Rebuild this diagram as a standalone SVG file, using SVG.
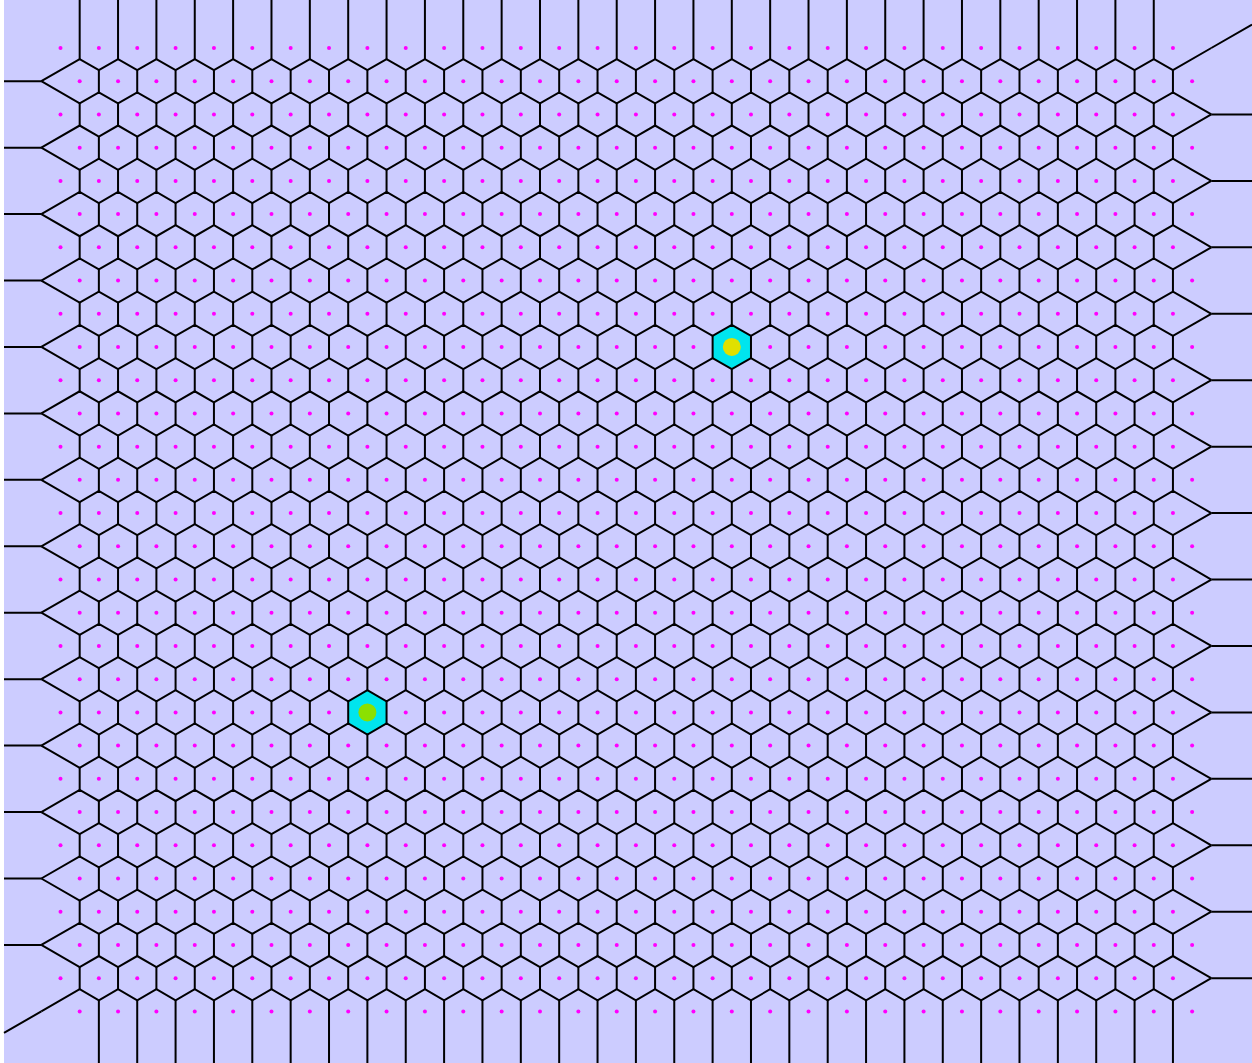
<svg xmlns="http://www.w3.org/2000/svg" xmlns:xlink="http://www.w3.org/1999/xlink" width="1252" height="1063" viewBox="0 0 1252 1063">
<style>
.e{fill:none;stroke:#000;stroke-width:2;stroke-linejoin:miter}
.s{fill:#ff00ff}
.sel{fill:#00e5ee}
</style>
<defs>
<path id="za" d="M41.32 33.22L79.68 11.07l19.18 11.07 19.18-11.07 19.18 11.07 19.18-11.07 19.18 11.07 19.18-11.07 19.18 11.07 19.18-11.07
19.18 11.07 19.18-11.07 19.18 11.07 19.18-11.07 19.18 11.07 19.18-11.07 19.18 11.07 19.18-11.07
19.18 11.07 19.18-11.07 19.18 11.07 19.18-11.07 19.18 11.07 19.18-11.07 19.18 11.07 19.18-11.07
19.18 11.07 19.18-11.07 19.18 11.07 19.18-11.07 19.18 11.07 19.18-11.07 19.18 11.07 19.18-11.07
19.18 11.07 19.18-11.07 19.18 11.07 19.18-11.07 19.18 11.07 19.18-11.07 19.18 11.07 19.18-11.07
19.18 11.07 19.18-11.07 19.18 11.07 19.18-11.07 19.18 11.07 19.18-11.07 19.18 11.07 19.18-11.07
19.18 11.07 19.18-11.07 19.18 11.07 19.18-11.07 19.18 11.07 19.18-11.07 19.18 11.07 19.18-11.07
19.18 11.07L1211.3 0"/>
<path id="zb" d="M41.32 0L79.68 22.14l19.18-11.07 19.18 11.07 19.18-11.07 19.18 11.07 19.18-11.07 19.18 11.07 19.18-11.07 19.18 11.07
19.18-11.07 19.18 11.07 19.18-11.07 19.18 11.07 19.18-11.07 19.18 11.07 19.18-11.07 19.18 11.07
19.18-11.07 19.18 11.07 19.18-11.07 19.18 11.07 19.18-11.07 19.18 11.07 19.18-11.07 19.18 11.07
19.18-11.07 19.18 11.07 19.18-11.07 19.18 11.07 19.18-11.07 19.18 11.07 19.18-11.07 19.18 11.07
19.18-11.07 19.18 11.07 19.18-11.07 19.18 11.07 19.18-11.07 19.18 11.07 19.18-11.07 19.18 11.07
19.18-11.07 19.18 11.07 19.18-11.07 19.18 11.07 19.18-11.07 19.18 11.07 19.18-11.07 19.18 11.07
19.18-11.07 19.18 11.07 19.18-11.07 19.18 11.07 19.18-11.07 19.18 11.07 19.18-11.07 19.18 11.07
19.18-11.07 19.18 11.07L1211.3 33.22"/>
<path id="vr" d="M79.68-11.07v22.14m38.36-22.14v22.14m38.36-22.14v22.14m38.36-22.14v22.14m38.36-22.14v22.14
m38.36-22.14v22.14m38.36-22.14v22.14m38.36-22.14v22.14m38.36-22.14v22.14
m38.36-22.14v22.14m38.36-22.14v22.14m38.36-22.14v22.14m38.36-22.14v22.14
m38.36-22.14v22.14m38.36-22.14v22.14m38.36-22.14v22.14m38.36-22.14v22.14
m38.36-22.14v22.14m38.36-22.14v22.14m38.36-22.14v22.14m38.36-22.14v22.14
m38.36-22.14v22.14m38.36-22.14v22.14m38.36-22.14v22.14m38.36-22.14v22.14
m38.36-22.14v22.14m38.36-22.14v22.14m38.36-22.14v22.14m38.36-22.14v22.14"/>
<g id="dr" class="s">
<circle cx="60.5" r="2"/><circle cx="98.86" r="2"/><circle cx="137.22" r="2"/><circle cx="175.58" r="2"/><circle cx="213.94" r="2"/>
<circle cx="252.3" r="2"/><circle cx="290.66" r="2"/><circle cx="329.02" r="2"/><circle cx="367.38" r="2"/><circle cx="405.74" r="2"/>
<circle cx="444.1" r="2"/><circle cx="482.46" r="2"/><circle cx="520.82" r="2"/><circle cx="559.18" r="2"/><circle cx="597.54" r="2"/>
<circle cx="635.9" r="2"/><circle cx="674.26" r="2"/><circle cx="712.62" r="2"/><circle cx="750.98" r="2"/><circle cx="789.34" r="2"/>
<circle cx="827.7" r="2"/><circle cx="866.06" r="2"/><circle cx="904.42" r="2"/><circle cx="942.78" r="2"/><circle cx="981.14" r="2"/>
<circle cx="1019.5" r="2"/><circle cx="1057.86" r="2"/><circle cx="1096.22" r="2"/><circle cx="1134.58" r="2"/><circle cx="1172.94" r="2"/>
</g>
</defs>
<rect x="4" y="0" width="1248" height="1063" fill="#ccccff"/>
<g id="selected-cells">
<polygon class="sel" points="731.8,324.84 750.98,335.91 750.98,358.05 731.8,369.12 712.62,358.05 712.62,335.91"/>
<polygon class="sel" points="367.38,690.26 386.56,701.33 386.56,723.47 367.38,734.54 348.2,723.47 348.2,701.33"/>
</g>
<g id="edges" class="e">
<use href="#za" y="48"/><use href="#zb" y="81.22"/><use href="#za" y="114.44"/><use href="#zb" y="147.66"/>
<use href="#za" y="180.88"/><use href="#zb" y="214.1"/><use href="#za" y="247.32"/><use href="#zb" y="280.54"/>
<use href="#za" y="313.76"/><use href="#zb" y="346.98"/><use href="#za" y="380.2"/><use href="#zb" y="413.42"/>
<use href="#za" y="446.64"/><use href="#zb" y="479.86"/><use href="#za" y="513.08"/><use href="#zb" y="546.3"/>
<use href="#za" y="579.52"/><use href="#zb" y="612.74"/><use href="#za" y="645.96"/><use href="#zb" y="679.18"/>
<use href="#za" y="712.4"/><use href="#zb" y="745.62"/><use href="#za" y="778.84"/><use href="#zb" y="812.06"/>
<use href="#za" y="845.28"/><use href="#zb" y="878.5"/><use href="#za" y="911.72"/><use href="#zb" y="944.94"/>
<use href="#za" y="978.16"/>
<use href="#vr" y="81.22" x="19.18"/><use href="#vr" y="114.44"/><use href="#vr" y="147.66" x="19.18"/>
<use href="#vr" y="180.88"/><use href="#vr" y="214.1" x="19.18"/><use href="#vr" y="247.32"/><use href="#vr" y="280.54" x="19.18"/>
<use href="#vr" y="313.76"/><use href="#vr" y="346.98" x="19.18"/><use href="#vr" y="380.2"/><use href="#vr" y="413.42" x="19.18"/>
<use href="#vr" y="446.64"/><use href="#vr" y="479.86" x="19.18"/><use href="#vr" y="513.08"/><use href="#vr" y="546.3" x="19.18"/>
<use href="#vr" y="579.52"/><use href="#vr" y="612.74" x="19.18"/><use href="#vr" y="645.96"/><use href="#vr" y="679.18" x="19.18"/>
<use href="#vr" y="712.4"/><use href="#vr" y="745.62" x="19.18"/><use href="#vr" y="778.84"/><use href="#vr" y="812.06" x="19.18"/>
<use href="#vr" y="845.28"/><use href="#vr" y="878.5" x="19.18"/><use href="#vr" y="911.72"/><use href="#vr" y="944.94" x="19.18"/>
<use href="#vr" y="978.16"/>
<path d="M79.68 0v59.07m38.36-59.07v59.07m38.36-59.07v59.07m38.36-59.07v59.07m38.36-59.07v59.07
m38.36-59.07v59.07m38.36-59.07v59.07m38.36-59.07v59.07m38.36-59.07v59.07
m38.36-59.07v59.07m38.36-59.07v59.07m38.36-59.07v59.07m38.36-59.07v59.07
m38.36-59.07v59.07m38.36-59.07v59.07m38.36-59.07v59.07m38.36-59.07v59.07
m38.36-59.07v59.07m38.36-59.07v59.07m38.36-59.07v59.07m38.36-59.07v59.07
m38.36-59.07v59.07m38.36-59.07v59.07m38.36-59.07v59.07m38.36-59.07v59.07
m38.36-59.07v59.07m38.36-59.07v59.07m38.36-59.07v59.07m38.36-59.07v59.07"/>
<path d="M98.86 1000.31v62.69m38.36-62.69v62.69m38.36-62.69v62.69m38.36-62.69v62.69m38.36-62.69v62.69
m38.36-62.69v62.69m38.36-62.69v62.69m38.36-62.69v62.69m38.36-62.69v62.69
m38.36-62.69v62.69m38.36-62.69v62.69m38.36-62.69v62.69m38.36-62.69v62.69
m38.36-62.69v62.69m38.36-62.69v62.69m38.36-62.69v62.69m38.36-62.69v62.69
m38.36-62.69v62.69m38.36-62.69v62.69m38.36-62.69v62.69m38.36-62.69v62.69
m38.36-62.69v62.69m38.36-62.69v62.69m38.36-62.69v62.69m38.36-62.69v62.69
m38.36-62.69v62.69m38.36-62.69v62.69m38.36-62.69v62.69m38.36-62.69v62.69"/>
<path d="M1211.3 48L1252 24.5M41.32 1011.38L4 1032.93"/>
<path d="M4 81.22h37.32M4 147.66h37.32M4 214.1h37.32M4 280.54h37.32M4 346.98h37.32M4 413.42h37.32M4 479.86h37.32
M4 546.3h37.32M4 612.74h37.32M4 679.18h37.32M4 745.62h37.32M4 812.06h37.32M4 878.5h37.32M4 944.94h37.32"/>
<path d="M1211.3 114.44H1252M1211.3 180.88H1252M1211.3 247.32H1252M1211.3 313.76H1252M1211.3 380.2H1252M1211.3 446.64H1252M1211.3 513.08H1252
M1211.3 579.52H1252M1211.3 645.96H1252M1211.3 712.4H1252M1211.3 778.84H1252M1211.3 845.28H1252M1211.3 911.72H1252M1211.3 978.16H1252"/>
</g>
<g id="sites">
<use href="#dr" y="48"/><use href="#dr" y="81.22" x="19.18"/><use href="#dr" y="114.44"/><use href="#dr" y="147.66" x="19.18"/>
<use href="#dr" y="180.88"/><use href="#dr" y="214.1" x="19.18"/><use href="#dr" y="247.32"/><use href="#dr" y="280.54" x="19.18"/>
<use href="#dr" y="313.76"/><use href="#dr" y="346.98" x="19.18"/><use href="#dr" y="380.2"/><use href="#dr" y="413.42" x="19.18"/>
<use href="#dr" y="446.64"/><use href="#dr" y="479.86" x="19.18"/><use href="#dr" y="513.08"/><use href="#dr" y="546.3" x="19.18"/>
<use href="#dr" y="579.52"/><use href="#dr" y="612.74" x="19.18"/><use href="#dr" y="645.96"/><use href="#dr" y="679.18" x="19.18"/>
<use href="#dr" y="712.4"/><use href="#dr" y="745.62" x="19.18"/><use href="#dr" y="778.84"/><use href="#dr" y="812.06" x="19.18"/>
<use href="#dr" y="845.28"/><use href="#dr" y="878.5" x="19.18"/><use href="#dr" y="911.72"/><use href="#dr" y="944.94" x="19.18"/>
<use href="#dr" y="978.16"/><use href="#dr" y="1011.38" x="19.18"/>
</g>
<g id="highlights">
<circle cx="731.8" cy="346.98" r="9" fill="#e0e000"/>
<circle cx="367.38" cy="712.4" r="9" fill="#8ce000"/>
</g>
</svg>
